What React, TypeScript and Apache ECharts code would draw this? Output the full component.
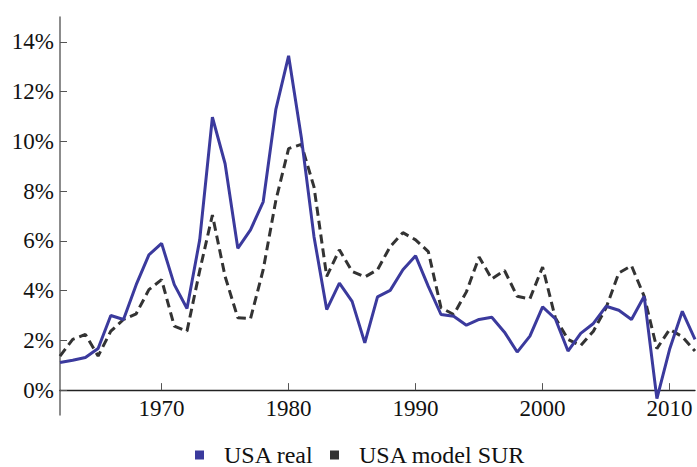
import { useEffect, useRef } from "react";
import * as echarts from "echarts";

// Annual inflation, USA: observed vs. SUR model estimate (percent)
const years = [
  1962, 1963, 1964, 1965, 1966, 1967, 1968, 1969, 1970, 1971,
  1972, 1973, 1974, 1975, 1976, 1977, 1978, 1979, 1980, 1981,
  1982, 1983, 1984, 1985, 1986, 1987, 1988, 1989, 1990, 1991,
  1992, 1993, 1994, 1995, 1996, 1997, 1998, 1999, 2000, 2001,
  2002, 2003, 2004, 2005, 2006, 2007, 2008, 2009, 2010, 2011,
  2012,
];

const usaReal = [
  1.11, 1.2, 1.31, 1.67, 3.0, 2.84, 4.24, 5.44, 5.9, 4.24,
  3.28, 6.04, 10.97, 9.1, 5.7, 6.44, 7.57, 11.3, 13.44, 10.17,
  6.17, 3.24, 4.3, 3.57, 1.9, 3.75, 4.01, 4.84, 5.4, 4.17,
  3.04, 2.97, 2.61, 2.84, 2.93, 2.33, 1.53, 2.17, 3.35, 2.87,
  1.57, 2.28, 2.68, 3.37, 3.21, 2.84, 3.77, -0.34, 1.64, 3.17,
  2.04,
];

const usaModelSur = [
  1.37, 2.04, 2.24, 1.37, 2.37, 2.84, 3.07, 4.04, 4.44, 2.57,
  2.37, 4.8, 7.04, 4.57, 2.91, 2.87, 4.84, 7.64, 9.71, 9.88,
  8.17, 4.57, 5.64, 4.77, 4.55, 4.84, 5.77, 6.33, 6.04, 5.57,
  3.31, 3.04, 3.95, 5.35, 4.47, 4.81, 3.77, 3.67, 4.95, 2.91,
  2.04, 1.79, 2.37, 3.31, 4.71, 5.0, 3.77, 1.67, 2.44, 2.15,
  1.57,
];

const xTickYears = [1970, 1980, 1990, 2000, 2010];
const yTickValues = [0, 2, 4, 6, 8, 10, 12, 14];

const FONT = "Liberation Serif";
const FONT_SIZE = 23;
const LEGEND_FONT_SIZE = 24;
const BLUE = "#3b3a9d";
const DARK = "#333333";

export default function App() {
  const ref = useRef<HTMLDivElement>(null);

  useEffect(() => {
    if (!ref.current) return;
    const chart = echarts.init(ref.current, null, { renderer: "svg" });

    chart.setOption({
      animation: false,
      backgroundColor: "#ffffff",
      grid: { left: 60, right: 2, top: 17, bottom: 52, containLabel: false },
      legend: {
        left: 190,
        top: 438,
        itemWidth: 9,
        itemHeight: 9,
        itemGap: 16,
        icon: "rect",
        textStyle: {
          fontFamily: FONT,
          fontSize: LEGEND_FONT_SIZE,
          color: "#111",
          padding: [0, 0, 0, 15],
        },
        data: [
          { name: "USA real", itemStyle: { color: BLUE } },
          { name: "USA model SUR", itemStyle: { color: DARK } },
        ],
      },
      xAxis: {
        type: "value",
        min: 1962,
        max: 2012,
        axisLine: { onZero: true, lineStyle: { color: "#222", width: 1.3 } },
        axisTick: {
          show: true,
          inside: true,
          length: 7,
          customValues: xTickYears,
          lineStyle: { color: "#555", width: 1 },
        },
        axisLabel: {
          customValues: xTickYears,
          // year labels sit just under the 0% line rather than the grid's bottom edge
          margin: -18,
          fontFamily: FONT,
          fontSize: FONT_SIZE,
          color: "#111",
          formatter: (v: number) => String(v),
        },
        splitLine: { show: false },
      },
      yAxis: {
        type: "value",
        min: -1,
        max: 15,
        axisLine: { show: true, onZero: false, lineStyle: { color: "#666", width: 1.5 } },
        axisTick: {
          show: true,
          inside: true,
          length: 7,
          customValues: yTickValues,
          lineStyle: { color: "#555", width: 1 },
        },
        axisLabel: {
          customValues: yTickValues,
          margin: 6,
          fontFamily: FONT,
          fontSize: FONT_SIZE,
          color: "#111",
          formatter: (v: number) => `${v}%`,
        },
        splitLine: { show: false },
      },
      series: [
        {
          name: "USA real",
          type: "line",
          showSymbol: false,
          color: BLUE,
          lineStyle: { color: BLUE, width: 3 },
          data: years.map((y, i) => [y, usaReal[i]]),
          z: 3,
        },
        {
          name: "USA model SUR",
          type: "line",
          showSymbol: false,
          color: DARK,
          lineStyle: { color: DARK, width: 3, type: [9, 5] },
          data: years.map((y, i) => [y, usaModelSur[i]]),
          z: 2,
        },
      ],
    });

    return () => chart.dispose();
  }, []);

  return (
    <div
      ref={ref}
      style={{ position: "fixed", left: 0, top: 0, width: 697, height: 467 }}
    />
  );
}
